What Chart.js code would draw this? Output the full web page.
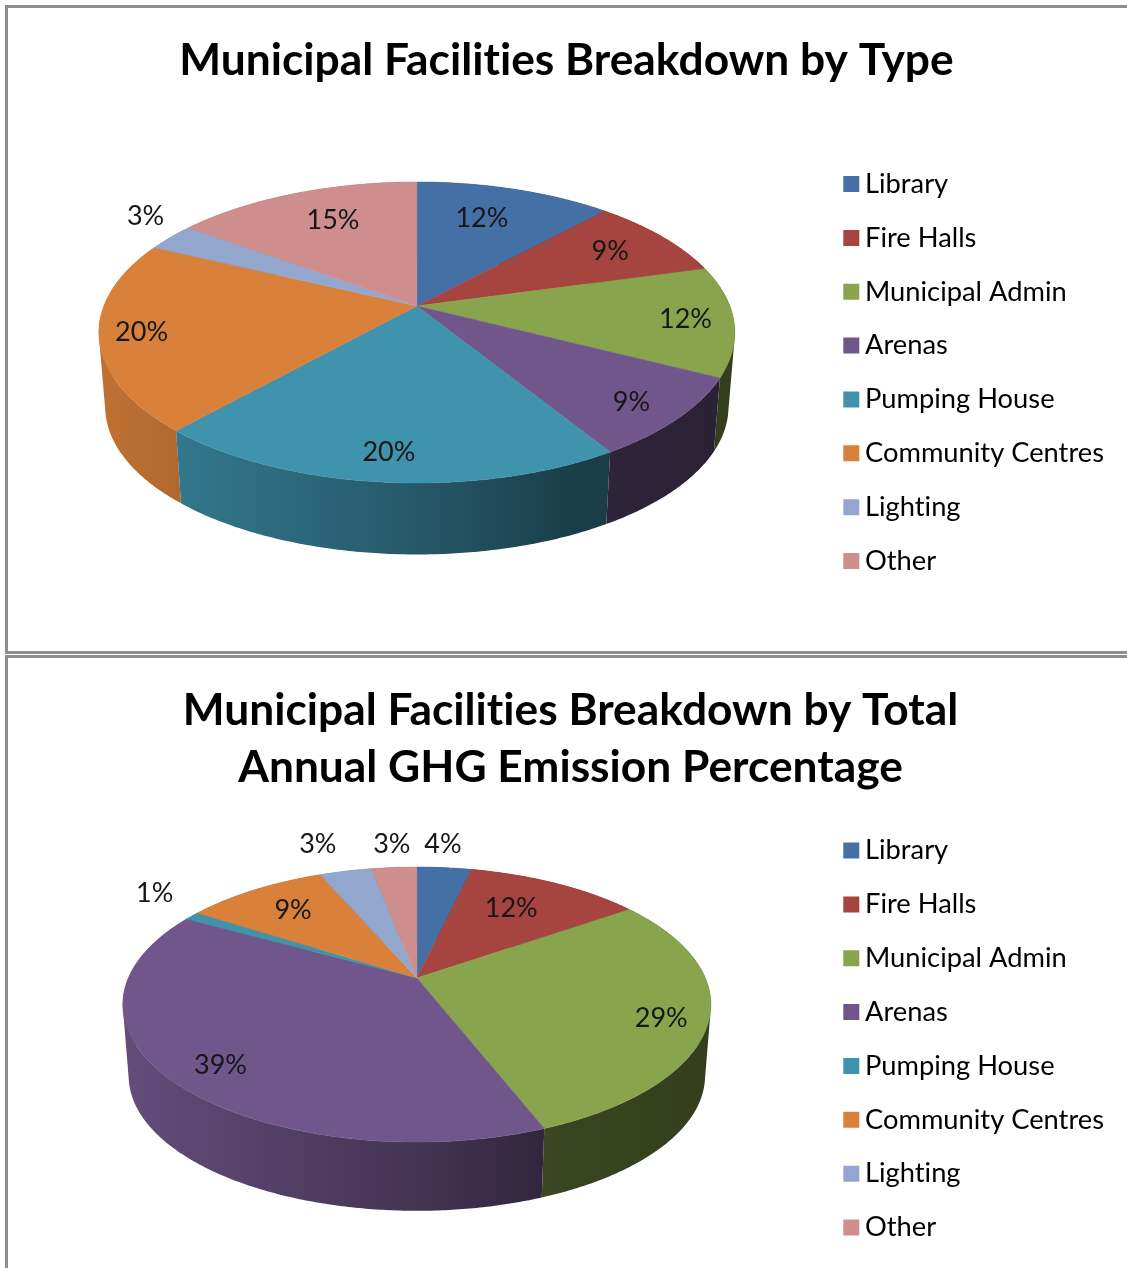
<!DOCTYPE html>
<html>
<head>
<meta charset="utf-8">
<title>Municipal Facilities Breakdown</title>
<script src="https://cdn.jsdelivr.net/npm/chart.js@4"></script>
<style>
    html, body { margin: 0; padding: 0; background: #fff; width: 1127px; height: 1268px; overflow: hidden; }
    .frame { position: absolute; left: 5px; width: 1200px; border: 3px solid #8e8e8e; box-sizing: border-box; }
    #frameType { top: 5px; height: 649px; }
    #frameGhg { top: 655px; height: 700px; }
    canvas { position: absolute; left: 8px; filter: blur(0.4px); }
    #chartType { top: 8px; }
    #chartGhg { top: 658px; }
</style>
</head>
<body>
<div class="frame" id="frameType"></div>
<div class="frame" id="frameGhg"></div>
<canvas id="chartType" width="1117" height="643"></canvas>
<canvas id="chartGhg" width="1117" height="610"></canvas>

<script>
var categories = ['Library', 'Fire Halls', 'Municipal Admin', 'Arenas', 'Pumping House', 'Community Centres', 'Lighting', 'Other'];
var colors = ['#4570A6', '#A64440', '#88A44C', '#71568B', '#3F93AD', '#D9803A', '#92A6CE', '#CE8E8E'];

var typeTitle = 'Municipal Facilities Breakdown by Type';
var typeValues = [11.86, 8.84, 11.8, 8.7, 20.45, 20.45, 3.0, 14.9];
var typeLabelRadius = [0.72, 0.78, 0.85, 0.85, 0.85, 0.87, 1.2, 0.73];
var typeLabelTurn = [-2.5, -0.5, -0.3, 1, 0, 0, 4.8, 2.6];

var ghgTitle = ['Municipal Facilities Breakdown by Total', 'Annual GHG Emission Percentage'];
var ghgValues = [3.62, 11.63, 28.85, 39.0, 1.0, 9.45, 3.45, 3.0];
var ghgLabelRadius = [1.26, 0.69, 0.85, 0.84, 1.27, 0.74, 1.33, 1.26];
var ghgLabelTurn = [-1.4, -2.1, 2.9, -3, 4.3, 0.2, -1.7, 0.5];

// brightness of the pie wall from its left rim to its right rim
var wallStops = [[0, 0.88], [0.5, 0.6], [0.75, 0.42], [1, 0.38]];

function shade(hex, f) {
    var n = parseInt(hex.slice(1), 16);
    return 'rgb(' + Math.round((n >> 16) * f) + ',' + Math.round(((n >> 8) & 255) * f) + ',' + Math.round((n & 255) * f) + ')';
}

// Chart.js works out the slices, this plugin paints them tilted in perspective
var tiltedPie = {
    id: 'tiltedPie',
    beforeDraw: function(chart) {
        // no "ti" ligature, the original font has none here
        chart.ctx.textRendering = 'optimizeSpeed';
    },
    beforeDatasetDraw: function(chart, args, opts) {
        var ctx = chart.ctx;
        var arcs = chart.getDatasetMeta(0).data;
        var rx = arcs[0].outerRadius;
        var ry = rx * opts.squash;
        var cx = arcs[0].x + opts.shiftX;
        var cy = arcs[0].y + opts.lift;
        var k = opts.perspective;

        function top(a, r) {
            var w = 1 - k * r * Math.sin(a);
            return { x: cx + rx * r * Math.cos(a) / w, y: cy + ry * r * Math.sin(a) / w };
        }
        function bottom(a) {
            var p = top(a, 1);
            return { x: cx + (p.x - cx) * opts.wallShrink, y: cy + (p.y - cy) * opts.wallShrink + opts.depth };
        }
        function samples(arc) {
            var list = [];
            var n = Math.max(2, Math.ceil((arc.endAngle - arc.startAngle) / 0.01));
            for (var i = 0; i <= n; i++) list.push(arc.startAngle + (arc.endAngle - arc.startAngle) * i / n);
            return list;
        }

        ctx.save();

        // walls, back ones first. All quads of a slice go in one path, same winding,
        // so the fold at the silhouette stays filled and there are no seams
        var order = arcs.map(function(arc, i) { return i; }).sort(function(a, b) {
            return Math.sin((arcs[a].startAngle + arcs[a].endAngle) / 2) - Math.sin((arcs[b].startAngle + arcs[b].endAngle) / 2);
        });
        order.forEach(function(i) {
            var angles = samples(arcs[i]);
            var grad = ctx.createLinearGradient(cx - rx, 0, cx + rx, 0);
            wallStops.forEach(function(s) { grad.addColorStop(s[0], shade(colors[i], s[1])); });
            ctx.fillStyle = grad;
            ctx.beginPath();
            for (var j = 0; j < angles.length - 1; j++) {
                var q = [top(angles[j], 1), top(angles[j + 1], 1), bottom(angles[j + 1]), bottom(angles[j])];
                var area = 0;
                q.forEach(function(p, n) {
                    var o = q[(n + 1) % 4];
                    area += p.x * o.y - o.x * p.y;
                });
                if (area < 0) q.reverse();
                ctx.moveTo(q[0].x, q[0].y);
                ctx.lineTo(q[1].x, q[1].y);
                ctx.lineTo(q[2].x, q[2].y);
                ctx.lineTo(q[3].x, q[3].y);
                ctx.closePath();
            }
            ctx.fill();
        });

        // top face
        arcs.forEach(function(arc, i) {
            ctx.beginPath();
            ctx.moveTo(cx, cy);
            samples(arc).forEach(function(a) {
                var p = top(a, 1);
                ctx.lineTo(p.x, p.y);
            });
            ctx.closePath();
            ctx.fillStyle = colors[i];
            ctx.strokeStyle = colors[i];
            ctx.lineWidth = 0.5;
            ctx.fill();
            ctx.stroke();
        });

        // percentage labels
        var values = chart.data.datasets[0].data;
        ctx.font = '27px Lato';
        ctx.fillStyle = '#161616';
        ctx.textAlign = 'center';
        ctx.textBaseline = 'middle';
        arcs.forEach(function(arc, i) {
            var mid = (arc.startAngle + arc.endAngle) / 2 + opts.labelTurn[i] * Math.PI / 180;
            var p = top(mid, opts.labelRadius[i]);
            ctx.fillText(Math.round(values[i]) + '%', p.x, p.y + opts.labelDrop);
        });

        ctx.restore();
        return false;
    }
};

function makePie(id, title, values, labelRadius, labelTurn, radius, view, pad) {
    return new Chart(document.getElementById(id), {
        type: 'pie',
        data: {
            labels: categories,
            datasets: [{ data: values, backgroundColor: colors, borderWidth: 0, radius: radius }]
        },
        options: {
            responsive: false,
            animation: false,
            layout: { padding: { left: pad.left, right: 11, bottom: pad.bottom } },
            plugins: {
                tooltip: { enabled: false },
                title: {
                    display: true,
                    text: title,
                    color: '#000',
                    font: { family: 'Lato', size: 44.3, weight: 'bold', lineHeight: 57 / 44.3 },
                    padding: { top: pad.top, bottom: pad.titleBottom }
                },
                legend: {
                    position: 'right',
                    fullSize: false,
                    labels: {
                        color: '#161616',
                        font: { family: 'Lato', size: 27.3 },
                        boxWidth: 0.1,
                        boxHeight: 0.1,
                        padding: 26.55,
                        // thick outline makes the swatch 16px while the text stays close to it
                        generateLabels: function(chart) {
                            return categories.map(function(name, i) {
                                return { text: name, fillStyle: colors[i], strokeStyle: colors[i], lineWidth: 15.9, index: i };
                            });
                        }
                    }
                },
                tiltedPie: Object.assign({ labelRadius: labelRadius, labelTurn: labelTurn }, view)
            }
        },
        plugins: [tiltedPie]
    });
}

makePie('chartType', typeTitle, typeValues, typeLabelRadius, typeLabelTurn, 313,
    { squash: 0.466, perspective: 0.176, shiftX: -5, lift: -66.5, depth: 75, wallShrink: 0.98, labelDrop: 1 },
    { left: 11, top: 24, titleBottom: 10, bottom: 5 });

// legend only just fits this canvas, negative bottom padding keeps it in one column
makePie('chartGhg', ghgTitle, ghgValues, ghgLabelRadius, ghgLabelTurn, 288.5,
    { squash: 0.459, perspective: 0.193, shiftX: -9, lift: -61, depth: 72, wallShrink: 0.98, labelDrop: 0 },
    { left: 19, top: 24, titleBottom: 14, bottom: -2 });
</script>
</body>
</html>
